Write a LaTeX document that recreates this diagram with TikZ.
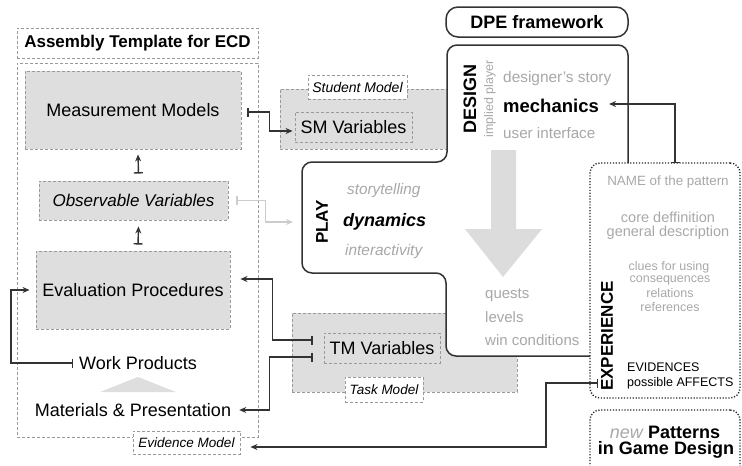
\documentclass[tikz,border=0pt]{standalone}
\usepackage{fontspec}
\setmainfont{Liberation Sans}
\usetikzlibrary{arrows.meta,calc}
\definecolor{boxfill}{HTML}{DEDEDE}
\definecolor{dashc}{HTML}{9A9A9A}
\definecolor{txtgray}{HTML}{A8A8A8}
\definecolor{lightarr}{HTML}{CCCCCC}
\definecolor{bigarr}{HTML}{DCDCDC}
\definecolor{conc}{HTML}{333333}
\newcommand{\myfs}[1]{\fontsize{#1}{#1}\selectfont}
\begin{document}
\begin{tikzpicture}[x=1pt,y=-1pt,
  dbox/.style={draw=dashc, dash pattern=on 3pt off 2pt, line width=0.9pt, inner sep=0pt},
  gbox/.style={dbox, fill=boxfill},
  lbl/.style={dbox, fill=white, font=\myfs{13.5}\itshape},
  dotbox/.style={draw=black!85, line width=1.4pt, dash pattern=on 1.2pt off 1.7pt, rounded corners=10pt, inner sep=0pt},
  conn/.style={draw=conc, line width=1.4pt, {Bar[width=9pt]}-{Stealth[length=7pt,width=6pt]}},
  outl/.style={draw=conc, line width=1.5pt, rounded corners=10pt},
  txt/.style={inner sep=0pt},
  gtxt/.style={inner sep=0pt, text=txtgray}
]
\useasboundingbox (0,0) rectangle (742,466);

% ---------- left: assembly template ----------
\node[dbox, minimum width=241pt, minimum height=30pt, font=\myfs{17}\bfseries] (title) at (137.5,43) {Assembly Template for ECD};
\node[dbox, minimum width=241pt, minimum height=374pt] (asm) at (137.5,250) {};
\node[gbox, minimum width=216pt, minimum height=78pt, font=\myfs{18}] (mm) at (133,110) {Measurement Models};
\node[gbox, minimum width=189pt, minimum height=39pt, font=\myfs{17}\itshape] (ov) at (133.5,200.5) {Observable Variables};
\node[gbox, minimum width=194pt, minimum height=78pt, font=\myfs{18}] (ep) at (133,290) {Evaluation Procedures};
\node[txt, font=\myfs{18}] (wp) at (138,363) {Work Products};
\fill[boxfill] (100,392) -- (176,392) -- (138,377) -- cycle;
\node[txt, font=\myfs{18}] (mp) at (133,410) {Materials \& Presentation};
\node[lbl, minimum width=107pt, minimum height=23pt] (evm) at (186.5,442.5) {Evidence Model};

% ---------- student / task models ----------
\node[gbox, minimum width=167pt, minimum height=60pt] (smbox) at (363.5,119) {};
\node[dbox, minimum width=117pt, minimum height=30pt, font=\myfs{18}] (smv) at (353.5,127) {SM Variables};
\node[lbl, minimum width=99pt, minimum height=24pt, font=\myfs{14}\itshape] (sml) at (357.5,87) {Student Model};

\node[gbox, minimum width=225pt, minimum height=79pt] (tmbox) at (404.5,352.5) {};
\node[dbox, minimum width=116pt, minimum height=30pt, font=\myfs{18}] (tmv) at (382,348) {TM Variables};
\node[lbl, minimum width=78pt, minimum height=25pt] (tml) at (384,389.5) {Task Model};

% ---------- DPE framework ----------
\node[draw=conc, line width=1.5pt, rounded corners=12pt, minimum width=182pt, minimum height=30pt, inner sep=0pt, font=\myfs{18}\bfseries] (dpe) at (537,22) {DPE framework};

\fill[white, rounded corners=10pt] (628,45) -- (447,45) -- (447,162) -- (302,162) -- (302,273) -- (446,273) -- (446,356) -- (591,356) -- (591,163) -- (628,163) -- cycle;

\fill[bigarr] (491,150) -- (516,150) -- (516,229) -- (542,229) -- (503,277) -- (465,229) -- (491,229) -- cycle;

\draw[outl] (628,163) -- (628,45) -- (447,45) -- (447,162) -- (302,162) -- (302,273) -- (446,273) -- (446,356) -- (590,356);

\node[txt, rotate=90, font=\myfs{18}\bfseries] (design) at (470,99) {DESIGN};
\node[gtxt, rotate=90, font=\myfs{12.5}] (implied) at (490,99) {implied player};
\node[gtxt, anchor=west, font=\myfs{15.4}] (story) at (503,79) {designer’s story};
\node[txt, anchor=west, font=\myfs{18.5}\bfseries] (mech) at (503,106) {mechanics};
\node[gtxt, anchor=west, font=\myfs{15.2}] (ui) at (503,133) {user interface};

\node[txt, rotate=90, font=\myfs{17}\bfseries] (play) at (322,222) {PLAY};
\node[gtxt, anchor=west, font=\myfs{15.3}\itshape] (storyt) at (347,191) {storytelling};
\node[txt, anchor=west, font=\myfs{18}\bfseries\itshape] (dyn) at (343,222) {dynamics};
\node[gtxt, anchor=west, font=\myfs{15.4}\itshape] (inter) at (345,252) {interactivity};

\node[gtxt, anchor=west, font=\myfs{15}] (quests) at (485,295) {quests};
\node[gtxt, anchor=west, font=\myfs{15}] (levels) at (485,317) {levels};
\node[gtxt, anchor=west, font=\myfs{15}] (winc) at (485,340) {win conditions};

% ---------- experience ----------
\node[dotbox, minimum width=150pt, minimum height=235pt] (exp) at (665,280.5) {};
\node[dotbox, minimum width=150pt, minimum height=80pt] (newp) at (665,450) {};

\node[gtxt, font=\myfs{13.4}] (name) at (668,182) {NAME of the pattern};
\node[gtxt, font=\myfs{14.5}] (core) at (668,217) {core deffinition};
\node[gtxt, font=\myfs{14.5}] (gen) at (668,233) {general description};
\node[gtxt, font=\myfs{12.5}] (clues) at (669,267) {clues for using};
\node[gtxt, font=\myfs{12.5}] (cons) at (670,280) {consequences};
\node[gtxt, font=\myfs{12.5}] (rel) at (670,293) {relations};
\node[gtxt, font=\myfs{12.5}] (refs) at (670,307) {references};
\node[txt, rotate=90, font=\myfs{17}\bfseries] (experience) at (607,336) {EXPERIENCE};
\node[txt, anchor=west, font=\myfs{12.5}] (evid) at (627,367) {EVIDENCES};
\node[txt, anchor=west, font=\myfs{12.5}] (aff) at (627,383) {possible AFFECTS};

\node[txt, font=\myfs{18}] (newt) at (665,432) {\textcolor{txtgray}{\itshape new} \textbf{Patterns}};
\node[txt, font=\myfs{18}\bfseries] (gd) at (666,450) {in Game Design};

% ---------- connectors ----------
\draw[conn] ([xshift=6pt,yshift=-2pt]mm.east) -- ++(22,0) |- ([xshift=-2pt,yshift=-4pt]smv.west);
\coordinate (playin) at (293,222);
\draw[conn, draw=lightarr] ([xshift=8pt]ov.east) -- ++(29,0) |- (playin);
\draw[conn] ($(ov.north)+(5,-7)$) -- ($(mm.south)+(5,5)$);
\draw[conn] ($(ep.north)+(5,-6)$) -- ($(ov.south)+(5,6)$);
\draw[conn] ([xshift=-6pt]wp.west) -- ++(-62,0) |- ([xshift=-6pt]ep.west);
\draw[conn] ([xshift=-11pt,yshift=8pt]tmv.west) -- ++(-40,0) |- ([xshift=10pt,yshift=11pt]ep.east);
\draw[conn] ([xshift=-11pt,yshift=-9pt]tmv.west) -- ++(-43,0) |- ([xshift=8pt]mp.east);
\draw[conn] ([xshift=-29pt]aff.west) -- ++(-52,0) |- ([xshift=10pt,yshift=-4.5pt]evm.east);
\coordinate (expt) at (675,163);
\draw[conn] (expt) |- ([xshift=10pt,yshift=2pt]mech.east);
\end{tikzpicture}
\end{document}
